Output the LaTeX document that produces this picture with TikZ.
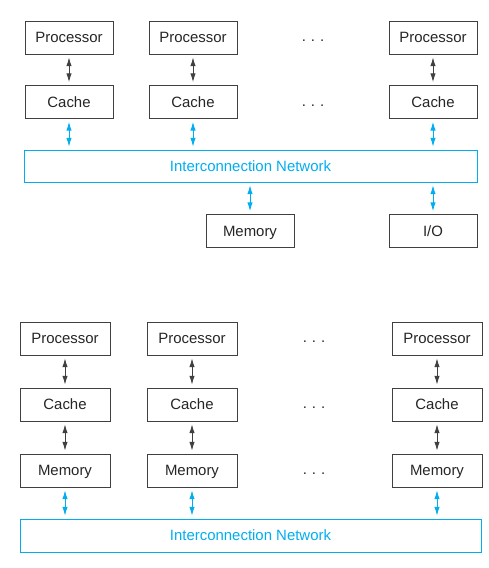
\documentclass[tikz,border=0pt]{standalone}
\usepackage{fontspec}
\setmainfont{Liberation Sans}
\usepackage{tikz}
\usetikzlibrary{arrows.meta}

\definecolor{netblue}{RGB}{0,174,239}

\begin{document}
\begin{tikzpicture}[black!75,
	unit/.style={draw,line width=0.55pt,fill=white,minimum width=1.76cm,minimum height=0.66cm,inner sep=0pt,text height=7.6pt,text depth=1.5pt,text=black!85,font=\fontsize{8.5}{10}\selectfont},
	net/.style={draw=netblue,line width=0.55pt,minimum height=0.64cm,inner sep=0pt,text height=7.6pt,text depth=1.5pt,text=netblue,font=\fontsize{8.5}{10}\selectfont},
	link/.style={line width=0.5pt,{Latex[length=5pt,width=3pt]}-{Latex[length=5pt,width=3pt]},shorten >=1.6pt,shorten <=1.6pt},
	netlink/.style={link,netblue},
	dots/.style={text=black!85,font=\fontsize{8.5}{10}\selectfont}]
		
		\useasboundingbox (0,0) rectangle (9.78,-11.36);
		
		% Shared memory machine
		\node[unit](p1) at (1.38,-0.75){Processor};
		\node[unit](p2) at (3.86,-0.75){Processor};
		\node[unit](p3) at (8.66,-0.75){Processor};
		\node[dots](d1) at (6.26,-0.82){.\,\,.\,\,.};
		
		\node[unit](c1) at (1.38,-2.04){Cache};
		\node[unit](c2) at (3.86,-2.04){Cache};
		\node[unit](c3) at (8.66,-2.04){Cache};
		\node[dots](d2) at (6.26,-2.11){.\,\,.\,\,.};
		
		\node[net,minimum width=9.06cm](n1) at (5.01,-3.32){Interconnection Network};
		
		\node[unit](m0) at (5.0,-4.62){Memory};
		\node[unit](io) at (8.66,-4.62){I/O};
		
		% Links
		\draw[link] (p1) -- (c1);
		\draw[link] (p2) -- (c2);
		\draw[link] (p3) -- (c3);
		\draw[netlink] (c1) -- (c1|-n1.north);
		\draw[netlink] (c2) -- (c2|-n1.north);
		\draw[netlink] (c3) -- (c3|-n1.north);
		\draw[netlink] (m0|-n1.south) -- (m0);
		\draw[netlink] (io|-n1.south) -- (io);
		
		\begin{scope}[yshift=-6.02cm,unit/.append style={minimum width=1.8cm}]
			% Distributed memory machine
			\node[unit](q1) at (1.30,-0.75){Processor};
			\node[unit](q2) at (3.84,-0.75){Processor};
			\node[unit](q3) at (8.74,-0.75){Processor};
			\node[dots](e1) at (6.28,-0.82){.\,\,.\,\,.};
			
			\node[unit](k1) at (1.30,-2.07){Cache};
			\node[unit](k2) at (3.84,-2.07){Cache};
			\node[unit](k3) at (8.74,-2.07){Cache};
			\node[dots](e2) at (6.28,-2.14){.\,\,.\,\,.};
			
			\node[unit](r1) at (1.30,-3.39){Memory};
			\node[unit](r2) at (3.84,-3.39){Memory};
			\node[unit](r3) at (8.74,-3.39){Memory};
			\node[dots](e3) at (6.28,-3.46){.\,\,.\,\,.};
			
			\node[net,minimum width=9.22cm,minimum height=0.66cm](n2) at (5.01,-4.69){Interconnection Network};
			
			% Links
			\draw[link] (q1) -- (k1);
			\draw[link] (q2) -- (k2);
			\draw[link] (q3) -- (k3);
			\draw[link] (k1) -- (r1);
			\draw[link] (k2) -- (r2);
			\draw[link] (k3) -- (r3);
			\draw[netlink] (r1) -- (r1|-n2.north);
			\draw[netlink] (r2) -- (r2|-n2.north);
			\draw[netlink] (r3) -- (r3|-n2.north);
		\end{scope}
		
	\end{tikzpicture}
\end{document}
